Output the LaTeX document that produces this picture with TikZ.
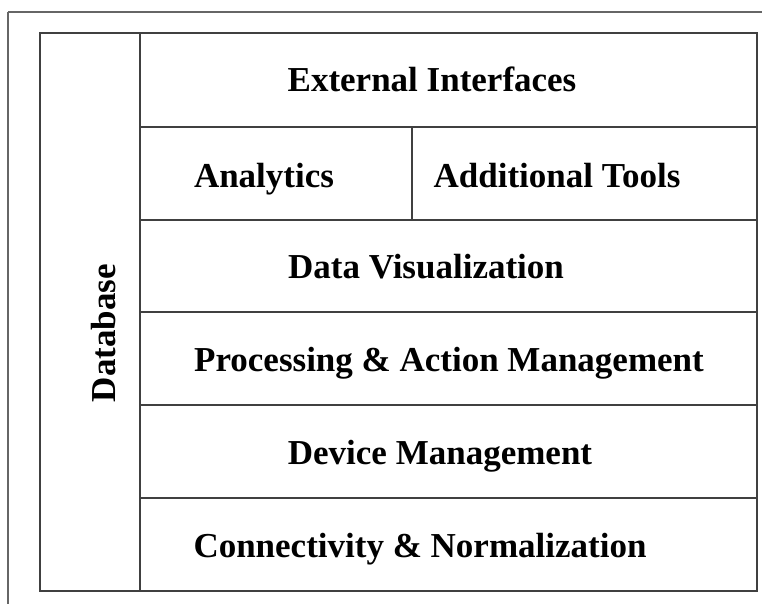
\documentclass[tikz,border=0pt]{standalone}
\usepackage{fontspec}
\setmainfont{Liberation Serif}
\usepackage{tikz}

\begin{document}
\begin{tikzpicture}[x=1pt,y=-1pt,
    layertext/.style={anchor=base,inner sep=0pt,font=\bfseries\fontsize{35}{40}\selectfont}]
          \useasboundingbox (0,0) rectangle (762,604);
          \draw[black!60,line width=1.2pt] (8,12) -- (8,610) (8,12) -- (770,12);% outer frame
          \draw[black!75,line width=1.6pt] (40,33) rectangle (757,591);
          \draw[black!75,line width=1.6pt] (140,33) -- (140,591);
          \draw[black!75,line width=1.6pt] (140,127) -- (757,127)
          (140,220) -- (757,220)
          (140,312) -- (757,312)
          (140,405) -- (757,405)
          (140,498) -- (757,498);
          \draw[black!75,line width=1.6pt] (412,127) -- (412,220);
          \node[layertext,rotate=90] (database) at (115,333) {Database};
          \node[layertext] (external) at (432,92) {External Interfaces};           % row 1
          \node[layertext] (analytics) at (264,187) {Analytics};                   % row 2
          \node[layertext] (tools) at (557,187) {Additional Tools};                % row 2
          \node[layertext] (datavis) at (426,278) {Data Visualization};            % row 3
          \node[layertext] (processing) at (449,371) {Processing \& Action Management}; % row 4
          \node[layertext] (device) at (440,464) {Device Management};              % row 5
          \node[layertext] (connectivity) at (420,557) {Connectivity \& Normalization}; % row 6
        \end{tikzpicture}
\end{document}
